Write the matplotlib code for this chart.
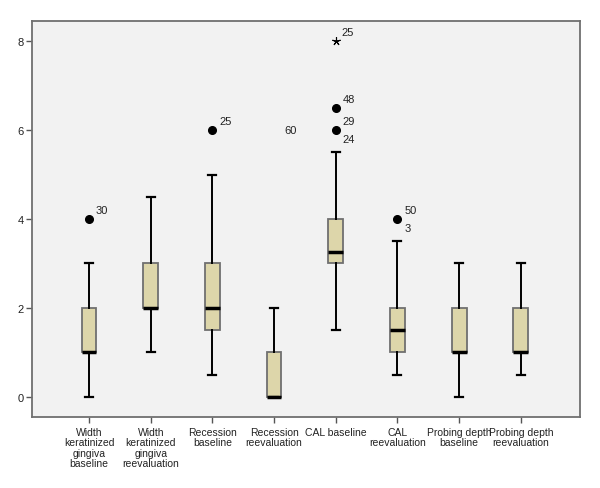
import matplotlib
matplotlib.use("Agg")
import matplotlib.pyplot as plt

categories = ["Width\nkeratinized\ngingiva\nbaseline",
              "Width\nkeratinized\ngingiva\nreevaluation",
              "Recession\nbaseline",
              "Recession\nreevaluation",
              "CAL baseline",
              "CAL\nreevaluation",
              "Probing depth\nbaseline",
              "Probing depth\nreevaluation"]
whislo = [0, 1, 0.5, 0, 1.5, 0.5, 0, 0.5]
q1 = [1, 2, 1.5, 0, 3, 1, 1, 1]
med = [1, 2, 2, 0, 3.25, 1.5, 1, 1]
q3 = [2, 3, 3, 1, 4, 2, 2, 2]
whishi = [3, 4.5, 5, 2, 5.5, 3.5, 3, 3]
# outliers: (box index, value, label)
outliers = [(0, 4, "30"), (2, 6, "25"), (4, 6.5, "48"), (4, 6, "29"), (5, 4, "50")]
outliers_below_labels = [(4, 6, "24"), (5, 4, "3")]
outlier_left_labels = [(4, 6, "60")]
extremes = [(4, 8, "25")]
yticks = [0, 2, 4, 6, 8]

plt.rcParams['font.family'] = ['Liberation Sans', 'DejaVu Sans']

fig = plt.figure(figsize=(6.0, 4.89), dpi=100)
ax = fig.add_axes([32/600, 1-418/489, 548/600, 396/489])
ax.set_facecolor("#f2f2f2")

stats = []
for i in range(len(categories)):
    stats.append(dict(whislo=whislo[i], q1=q1[i], med=med[i], q3=q3[i],
                      whishi=whishi[i], fliers=[], label=categories[i]))
pos = list(range(1, len(categories) + 1))
ax.bxp(stats, positions=pos, widths=0.24, patch_artist=True, showfliers=False,
       boxprops=dict(facecolor="#ddd6aa", edgecolor="#707070", linewidth=1.3),
       medianprops=dict(color="black", linewidth=2.5),
       whiskerprops=dict(color="black", linewidth=1.4),
       capprops=dict(color="black", linewidth=1.6),
       capwidths=0.13)

for i, v, lab in outliers:
    ax.plot(pos[i], v, 'o', color='black', markersize=5.5)
    ax.annotate(lab, (pos[i], v), xytext=(5, 3), textcoords='offset points',
                fontsize=8, color='#222222', ha='left', va='bottom')
for i, v, lab in outliers_below_labels:
    ax.annotate(lab, (pos[i], v), xytext=(5, -3), textcoords='offset points',
                fontsize=8, color='#222222', ha='left', va='top')
for i, v, lab in outlier_left_labels:
    ax.annotate(lab, (pos[i], v), xytext=(-28, 0), textcoords='offset points',
                fontsize=8, color='#222222', ha='right', va='center')
for i, v, lab in extremes:
    ax.plot(pos[i], v, marker=(5, 2, 0), color='black', markersize=6, markeredgewidth=0.8)
    ax.annotate(lab, (pos[i], v), xytext=(4, 3), textcoords='offset points',
                fontsize=8, color='#222222', ha='left', va='bottom')

ax.set_xlim(0.075, 8.96)
ax.set_ylim(-0.45, 8.45)
ax.set_yticks(yticks)
ax.set_yticklabels([str(t) for t in yticks])
ax.set_xticks(pos)
ax.set_xticklabels(categories, fontsize=7.5, linespacing=1.05, color='#222222')
ax.tick_params(axis='y', labelsize=8, length=4, width=1, color='#555555', pad=2,
               labelcolor='#222222')
ax.tick_params(axis='x', length=4, width=1, color='#555555', pad=3)
for s in ax.spines.values():
    s.set_color('#707070')
    s.set_linewidth(1.3)

fig.savefig("out.png", dpi=100)
